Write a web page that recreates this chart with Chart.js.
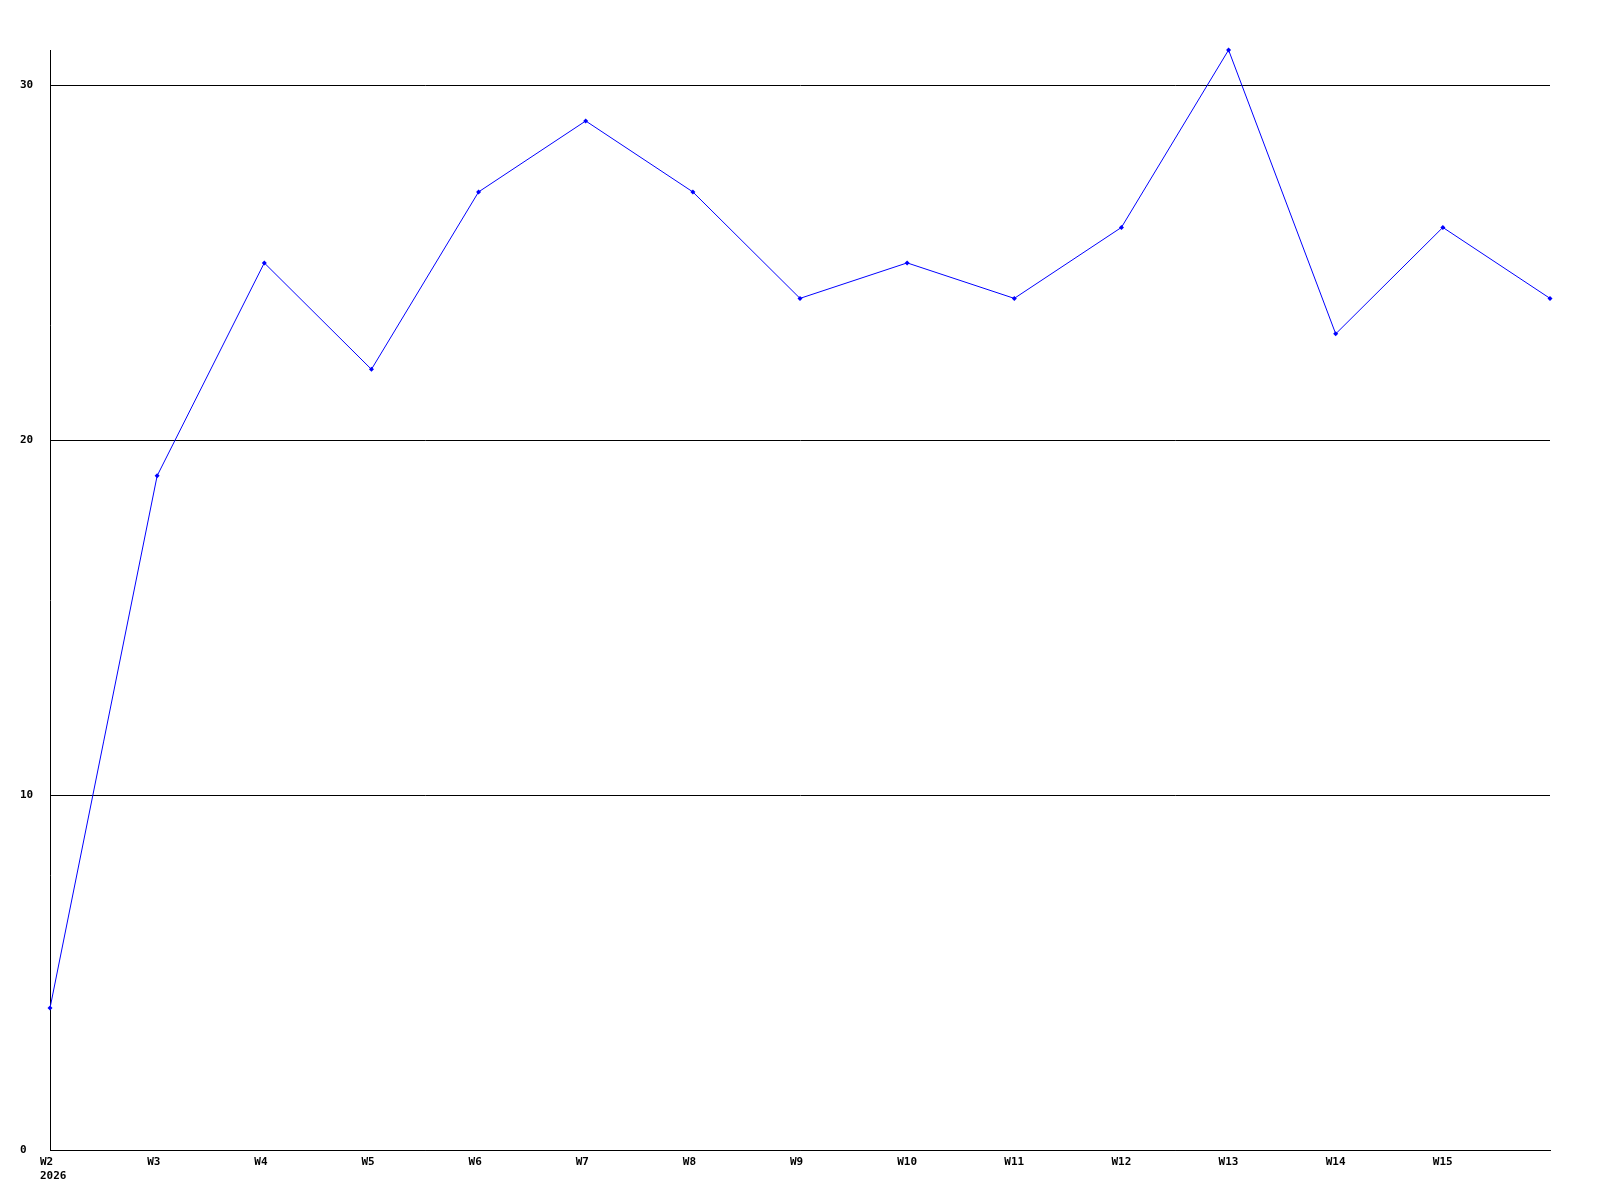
<!DOCTYPE html>
<html>
<head>
<meta charset="utf-8">
<script src="https://cdn.jsdelivr.net/npm/chart.js@4"></script>
<style>
html,body{margin:0;padding:0;background:#fff;}
canvas{display:block;}
</style>
</head>
<body>
<canvas id="c" width="1600" height="1200"></canvas>
<script>
const categories = ["W2","W3","W4","W5","W6","W7","W8","W9","W10","W11","W12","W13","W14","W15","W16"];
const values = [4,19,25,22,27,29,27,24,25,24,26,31,23,26,24];
const yearLabel = "2026";
const yTicks = [0,10,20,30];
const yMax = 31;

const font = {family: "'DejaVu Sans Mono', monospace", size: 11, weight: 'bold'};

new Chart(document.getElementById('c'), {
  type: 'line',
  data: {
    labels: categories,
    datasets: [{
      data: values,
      borderColor: '#0000ff',
      backgroundColor: '#0000ff',
      borderWidth: 1,
      pointStyle: 'rectRot',
      pointRadius: 2.5,
      pointBorderWidth: 0,
      tension: 0,
      fill: false,
      clip: false
    }]
  },
  options: {
    responsive: false,
    animation: false,
    devicePixelRatio: 1,
    layout: {padding: {left: 20, top: 50, right: 50, bottom: 0}},
    plugins: {legend: {display: false}, tooltip: {enabled: false}},
    scales: {
      x: {
        offset: false,
        grid: {display: false, drawTicks: false},
        border: {display: true, color: '#000', width: 1},
        ticks: {
          autoSkip: false,
          maxRotation: 0,
          minRotation: 0,
          align: 'start',
          labelOffset: -10,
          padding: 6,
          color: '#000',
          font: font,
          callback: function(v, i) {
            if (i === categories.length - 1) return '';
            if (i === 0) return [categories[i], yearLabel];
            return categories[i];
          }
        },
        afterFit: function(s) { s.height = 50; }
      },
      y: {
        min: 0,
        max: yMax,
        afterBuildTicks: function(s) { s.ticks = yTicks.map(v => ({value: v})); },
        grid: {color: '#000', lineWidth: 1, drawTicks: false},
        border: {display: true, color: '#000', width: 1},
        ticks: {
          crossAlign: 'far',
          padding: 0,
          color: '#000',
          font: font
        },
        afterFit: function(s) { s.width = 30; }
      }
    }
  }
});
</script>
</body>
</html>
